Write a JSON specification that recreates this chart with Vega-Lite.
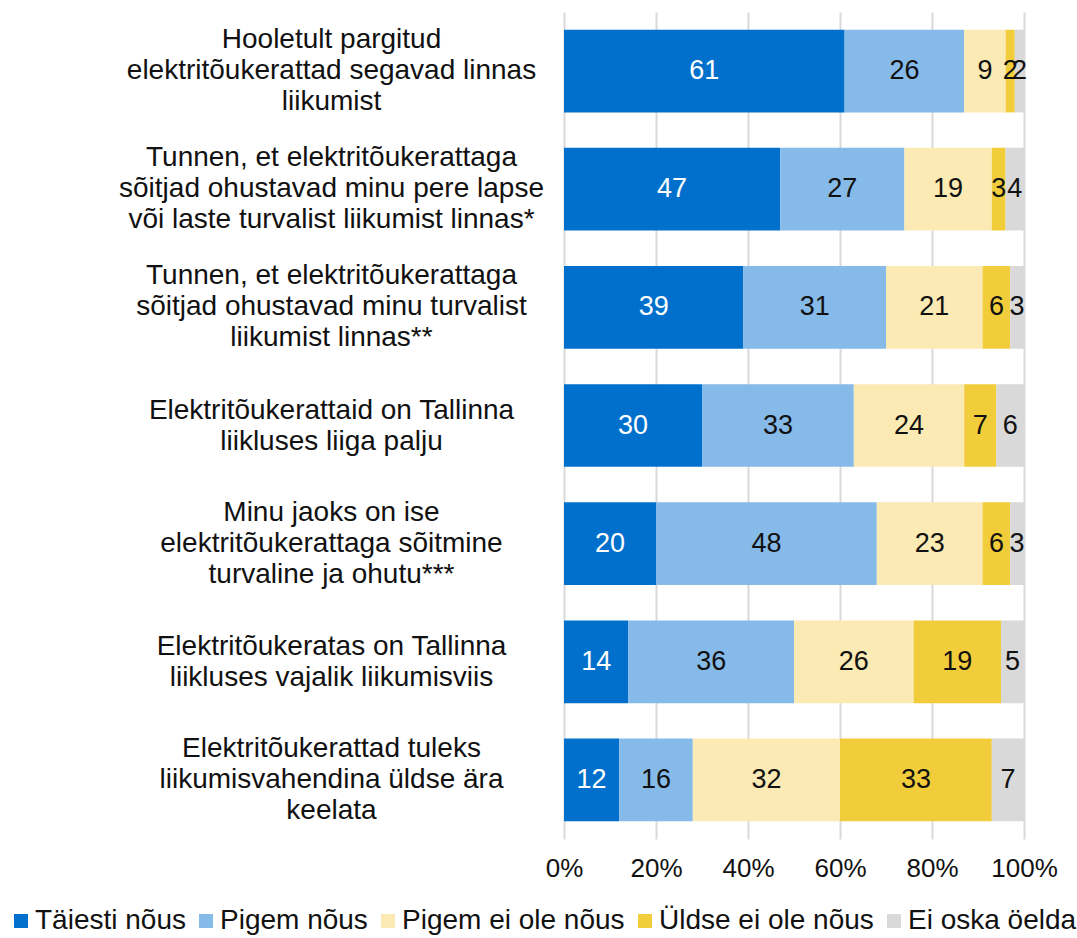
{
  "$schema": "https://vega.github.io/schema/vega-lite/v6.json",
  "width": 460,
  "height": 827,
  "autosize": {"type": "none"},
  "padding": {"left": 564, "top": 12, "right": 53, "bottom": 99},
  "background": "white",
  "config": {"font": "Liberation Sans", "view": {"stroke": null}},
  "datasets": {
    "survey": [
      {"s": "Hooletult pargitud|elektritõukerattad segavad linnas|liikumist", "o": 1, "cat": "Täiesti nõus", "co": 1, "v": 61},
      {"s": "Hooletult pargitud|elektritõukerattad segavad linnas|liikumist", "o": 1, "cat": "Pigem nõus", "co": 2, "v": 26},
      {"s": "Hooletult pargitud|elektritõukerattad segavad linnas|liikumist", "o": 1, "cat": "Pigem ei ole nõus", "co": 3, "v": 9},
      {"s": "Hooletult pargitud|elektritõukerattad segavad linnas|liikumist", "o": 1, "cat": "Üldse ei ole nõus", "co": 4, "v": 2},
      {"s": "Hooletult pargitud|elektritõukerattad segavad linnas|liikumist", "o": 1, "cat": "Ei oska öelda", "co": 5, "v": 2},
      {"s": "Tunnen, et elektritõukerattaga|sõitjad ohustavad minu pere lapse|või laste turvalist liikumist linnas*", "o": 2, "cat": "Täiesti nõus", "co": 1, "v": 47},
      {"s": "Tunnen, et elektritõukerattaga|sõitjad ohustavad minu pere lapse|või laste turvalist liikumist linnas*", "o": 2, "cat": "Pigem nõus", "co": 2, "v": 27},
      {"s": "Tunnen, et elektritõukerattaga|sõitjad ohustavad minu pere lapse|või laste turvalist liikumist linnas*", "o": 2, "cat": "Pigem ei ole nõus", "co": 3, "v": 19},
      {"s": "Tunnen, et elektritõukerattaga|sõitjad ohustavad minu pere lapse|või laste turvalist liikumist linnas*", "o": 2, "cat": "Üldse ei ole nõus", "co": 4, "v": 3},
      {"s": "Tunnen, et elektritõukerattaga|sõitjad ohustavad minu pere lapse|või laste turvalist liikumist linnas*", "o": 2, "cat": "Ei oska öelda", "co": 5, "v": 4},
      {"s": "Tunnen, et elektritõukerattaga|sõitjad ohustavad minu turvalist|liikumist linnas**", "o": 3, "cat": "Täiesti nõus", "co": 1, "v": 39},
      {"s": "Tunnen, et elektritõukerattaga|sõitjad ohustavad minu turvalist|liikumist linnas**", "o": 3, "cat": "Pigem nõus", "co": 2, "v": 31},
      {"s": "Tunnen, et elektritõukerattaga|sõitjad ohustavad minu turvalist|liikumist linnas**", "o": 3, "cat": "Pigem ei ole nõus", "co": 3, "v": 21},
      {"s": "Tunnen, et elektritõukerattaga|sõitjad ohustavad minu turvalist|liikumist linnas**", "o": 3, "cat": "Üldse ei ole nõus", "co": 4, "v": 6},
      {"s": "Tunnen, et elektritõukerattaga|sõitjad ohustavad minu turvalist|liikumist linnas**", "o": 3, "cat": "Ei oska öelda", "co": 5, "v": 3},
      {"s": "Elektritõukerattaid on Tallinna|liikluses liiga palju", "o": 4, "cat": "Täiesti nõus", "co": 1, "v": 30},
      {"s": "Elektritõukerattaid on Tallinna|liikluses liiga palju", "o": 4, "cat": "Pigem nõus", "co": 2, "v": 33},
      {"s": "Elektritõukerattaid on Tallinna|liikluses liiga palju", "o": 4, "cat": "Pigem ei ole nõus", "co": 3, "v": 24},
      {"s": "Elektritõukerattaid on Tallinna|liikluses liiga palju", "o": 4, "cat": "Üldse ei ole nõus", "co": 4, "v": 7},
      {"s": "Elektritõukerattaid on Tallinna|liikluses liiga palju", "o": 4, "cat": "Ei oska öelda", "co": 5, "v": 6},
      {"s": "Minu jaoks on ise|elektritõukerattaga sõitmine|turvaline ja ohutu***", "o": 5, "cat": "Täiesti nõus", "co": 1, "v": 20},
      {"s": "Minu jaoks on ise|elektritõukerattaga sõitmine|turvaline ja ohutu***", "o": 5, "cat": "Pigem nõus", "co": 2, "v": 48},
      {"s": "Minu jaoks on ise|elektritõukerattaga sõitmine|turvaline ja ohutu***", "o": 5, "cat": "Pigem ei ole nõus", "co": 3, "v": 23},
      {"s": "Minu jaoks on ise|elektritõukerattaga sõitmine|turvaline ja ohutu***", "o": 5, "cat": "Üldse ei ole nõus", "co": 4, "v": 6},
      {"s": "Minu jaoks on ise|elektritõukerattaga sõitmine|turvaline ja ohutu***", "o": 5, "cat": "Ei oska öelda", "co": 5, "v": 3},
      {"s": "Elektritõukeratas on Tallinna|liikluses vajalik liikumisviis", "o": 6, "cat": "Täiesti nõus", "co": 1, "v": 14},
      {"s": "Elektritõukeratas on Tallinna|liikluses vajalik liikumisviis", "o": 6, "cat": "Pigem nõus", "co": 2, "v": 36},
      {"s": "Elektritõukeratas on Tallinna|liikluses vajalik liikumisviis", "o": 6, "cat": "Pigem ei ole nõus", "co": 3, "v": 26},
      {"s": "Elektritõukeratas on Tallinna|liikluses vajalik liikumisviis", "o": 6, "cat": "Üldse ei ole nõus", "co": 4, "v": 19},
      {"s": "Elektritõukeratas on Tallinna|liikluses vajalik liikumisviis", "o": 6, "cat": "Ei oska öelda", "co": 5, "v": 5},
      {"s": "Elektritõukerattad tuleks|liikumisvahendina üldse ära|keelata", "o": 7, "cat": "Täiesti nõus", "co": 1, "v": 12},
      {"s": "Elektritõukerattad tuleks|liikumisvahendina üldse ära|keelata", "o": 7, "cat": "Pigem nõus", "co": 2, "v": 16},
      {"s": "Elektritõukerattad tuleks|liikumisvahendina üldse ära|keelata", "o": 7, "cat": "Pigem ei ole nõus", "co": 3, "v": 32},
      {"s": "Elektritõukerattad tuleks|liikumisvahendina üldse ära|keelata", "o": 7, "cat": "Üldse ei ole nõus", "co": 4, "v": 33},
      {"s": "Elektritõukerattad tuleks|liikumisvahendina üldse ära|keelata", "o": 7, "cat": "Ei oska öelda", "co": 5, "v": 7}
    ]
  },
  "data": {"name": "survey"},
  "transform": [
    {"stack": "v", "groupby": ["s"], "sort": [{"field": "co", "order": "ascending"}], "as": ["v0", "v1"]},
    {"calculate": "(datum.v0 + datum.v1) / 2", "as": "mid"}
  ],
  "encoding": {
    "y": {
      "field": "s",
      "type": "nominal",
      "sort": {"field": "o", "op": "min", "order": "ascending"},
      "scale": {"paddingInner": 0.3, "paddingOuter": 0.15},
      "axis": {
        "title": null,
        "ticks": false,
        "domain": false,
        "labelExpr": "split(datum.label, '|')",
        "labelAlign": "center",
        "labelBaseline": "middle",
        "labelPadding": 233,
        "labelOffset": {"condition": {"test": "length(split(datum.value, '|')) === 3", "value": -31}, "value": -15},
        "labelFontSize": 28,
        "labelLineHeight": 31,
        "labelColor": "#111111",
        "labelLimit": 0
      }
    }
  },
  "layer": [
    {
      "mark": {"type": "bar"},
      "encoding": {
        "x": {
          "field": "v0",
          "type": "quantitative",
          "scale": {"domain": [0, 100], "nice": false},
          "axis": {
            "title": null,
            "values": [0, 20, 40, 60, 80, 100],
            "labelExpr": "datum.value + '%'",
            "ticks": false,
            "domain": false,
            "grid": true,
            "gridColor": "#D9D9D9",
            "gridWidth": 2,
            "labelFontSize": 26,
            "labelColor": "#111111",
            "labelPadding": 16,
            "labelFlush": false
          }
        },
        "x2": {"field": "v1"},
        "color": {
          "field": "cat",
          "type": "nominal",
          "sort": ["Täiesti nõus", "Pigem nõus", "Pigem ei ole nõus", "Üldse ei ole nõus", "Ei oska öelda"],
          "scale": {
            "domain": ["Täiesti nõus", "Pigem nõus", "Pigem ei ole nõus", "Üldse ei ole nõus", "Ei oska öelda"],
            "range": ["#0070CC", "#86BAE8", "#FBEAB3", "#F2CD3B", "#D9D9D9"]
          },
          "legend": {
            "title": null,
            "orient": "none",
            "direction": "horizontal",
            "legendX": -557,
            "legendY": 895,
            "symbolType": "square",
            "symbolSize": 196,
            "symbolStrokeWidth": 0,
            "labelFontSize": 28,
            "labelColor": "#111111",
            "labelOffset": 0,
            "columnPadding": 6,
            "labelLimit": 0
          }
        }
      }
    },
    {
      "mark": {"type": "text", "fontSize": 27, "align": "center", "baseline": "middle"},
      "encoding": {
        "x": {"field": "mid", "type": "quantitative"},
        "text": {"field": "v", "type": "quantitative"},
        "color": {
          "condition": {"test": "datum.cat === 'Täiesti nõus'", "value": "white"},
          "value": "#111111"
        }
      }
    }
  ]
}
